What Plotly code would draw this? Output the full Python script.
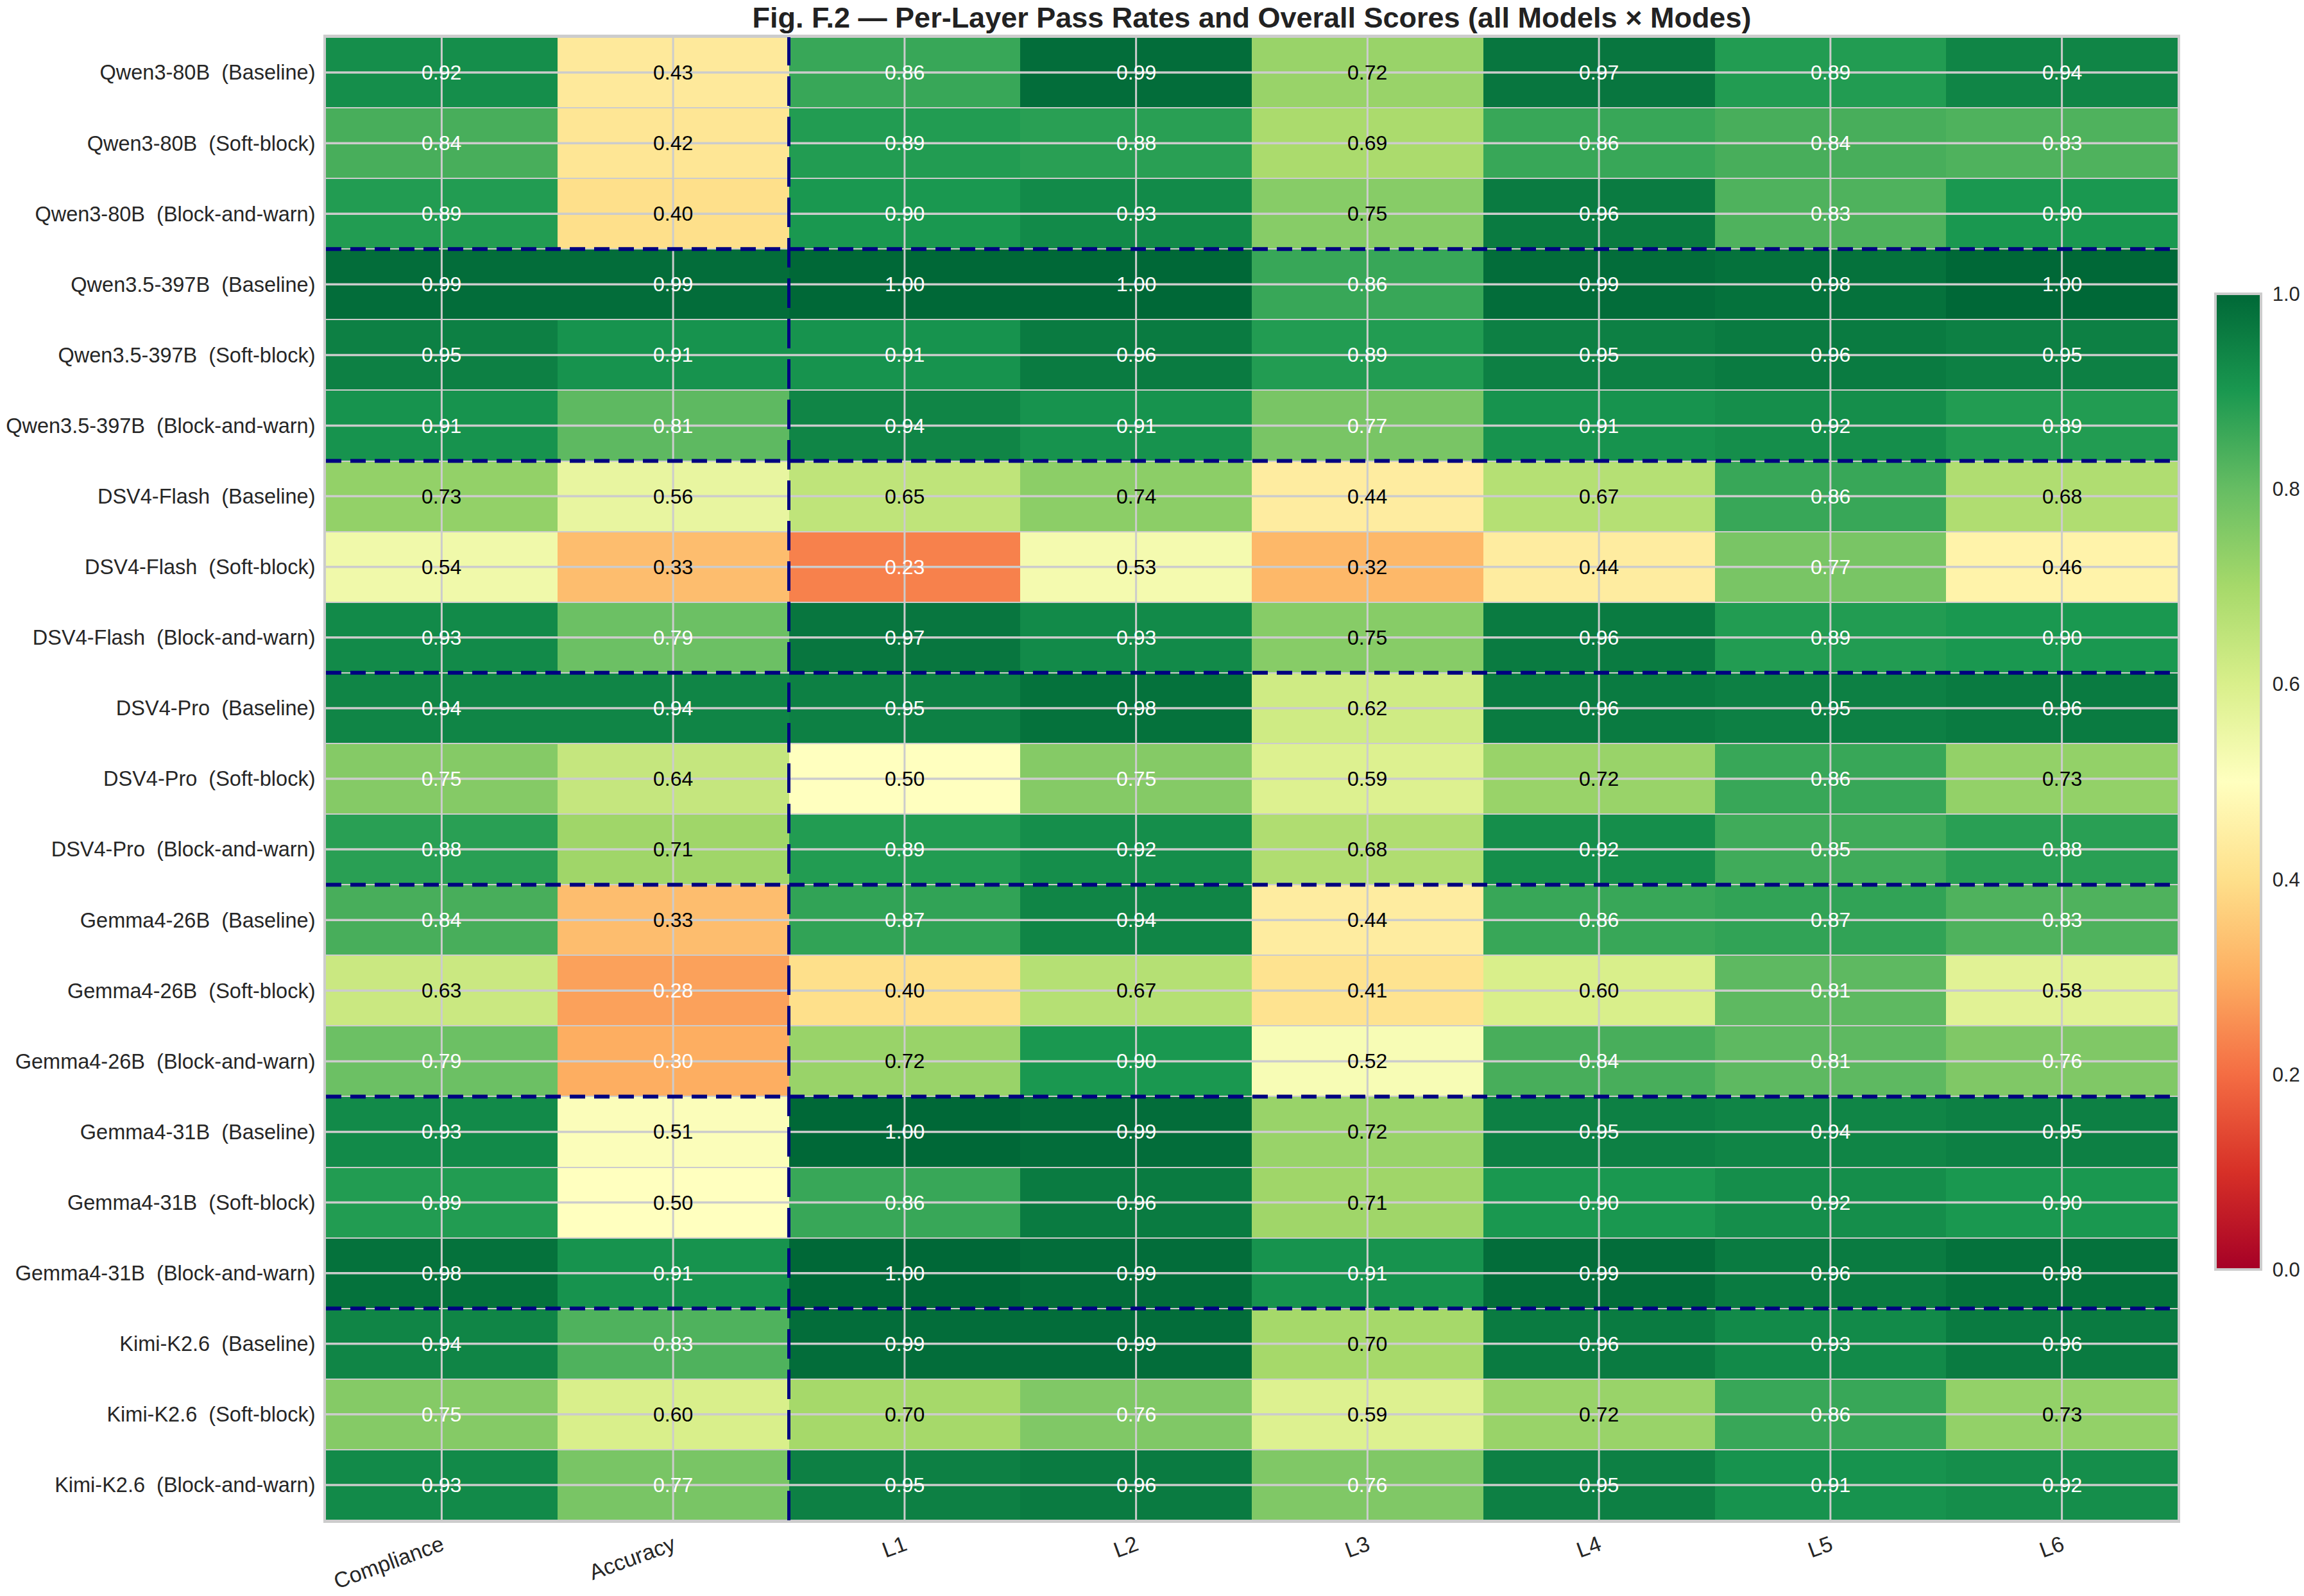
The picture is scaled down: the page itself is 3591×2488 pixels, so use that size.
import plotly.graph_objects as go

# ---------------- data ----------------
models = ["Qwen3-80B", "Qwen3.5-397B", "DSV4-Flash", "DSV4-Pro", "Gemma4-26B", "Gemma4-31B", "Kimi-K2.6"]
modes = ["Baseline", "Soft-block", "Block-and-warn"]
columns = ["Compliance", "Accuracy", "L1", "L2", "L3", "L4", "L5", "L6"]

compliance = [0.92, 0.84, 0.89, 0.99, 0.95, 0.91, 0.73, 0.54, 0.93, 0.94, 0.752, 0.88,
              0.84, 0.63, 0.79, 0.93, 0.89, 0.98, 0.94, 0.752, 0.93]
accuracy = [0.43, 0.42, 0.40, 0.99, 0.91, 0.81, 0.56, 0.33, 0.79, 0.94, 0.64, 0.71,
            0.33, 0.28, 0.30, 0.51, 0.50, 0.91, 0.83, 0.60, 0.77]
l1 = [0.86, 0.89, 0.90, 1.00, 0.91, 0.94, 0.65, 0.23, 0.97, 0.95, 0.50, 0.89,
      0.87, 0.40, 0.72, 1.00, 0.86, 1.00, 0.99, 0.70, 0.95]
l2 = [0.99, 0.88, 0.93, 1.00, 0.96, 0.91, 0.74, 0.53, 0.93, 0.98, 0.752, 0.92,
      0.94, 0.67, 0.90, 0.99, 0.96, 0.99, 0.99, 0.76, 0.96]
l3 = [0.72, 0.69, 0.748, 0.86, 0.89, 0.77, 0.44, 0.32, 0.748, 0.62, 0.59, 0.68,
      0.44, 0.41, 0.52, 0.72, 0.71, 0.91, 0.70, 0.59, 0.76]
l4 = [0.97, 0.86, 0.96, 0.99, 0.95, 0.91, 0.67, 0.44, 0.96, 0.96, 0.72, 0.92,
      0.86, 0.60, 0.84, 0.95, 0.90, 0.99, 0.96, 0.72, 0.95]
l5 = [0.89, 0.84, 0.83, 0.98, 0.96, 0.92, 0.86, 0.77, 0.89, 0.95, 0.86, 0.85,
      0.87, 0.81, 0.81, 0.94, 0.92, 0.96, 0.93, 0.86, 0.91]
l6 = [0.94, 0.83, 0.90, 1.00, 0.95, 0.89, 0.68, 0.46, 0.90, 0.96, 0.73, 0.88,
      0.83, 0.58, 0.76, 0.95, 0.90, 0.98, 0.96, 0.73, 0.92]

series = [compliance, accuracy, l1, l2, l3, l4, l5, l6]
row_labels = [f"{m}  ({md})" for m in models for md in modes]
z = [[s[i] for s in series] for i in range(len(row_labels))]

# ---------------- style ----------------
FONT = "Liberation Sans, Arial, sans-serif"
GRID = "#cccccc"
NAVY = "#000080"
rdylgn = ["#a50026", "#d73027", "#f46d43", "#fdae61", "#fee08b", "#ffffbf",
          "#d9ef8b", "#a6d96a", "#66bd63", "#1a9850", "#006837"]
colorscale = [[i / (len(rdylgn) - 1), c] for i, c in enumerate(rdylgn)]

fig = go.Figure()
fig.add_trace(go.Heatmap(
    z=z, x=columns, y=row_labels, zmin=0, zmax=1, colorscale=colorscale,
    xgap=0, ygap=2, hoverinfo="skip",
    colorbar=dict(
        thickness=71, outlinewidth=4, outlinecolor=GRID,
        tickvals=[0, 0.2, 0.4, 0.6, 0.8, 1.0], tickformat=".1f",
        tickfont=dict(size=31, color="#262626", family=FONT),
        ticks="outside", ticklen=10, tickcolor="rgba(0,0,0,0)",
        x=1.0204, xanchor="left", xpad=0,
        y=0.498, yanchor="middle", len=0.658, lenmode="fraction", ypad=0,
    ),
))

shapes = []
# grid lines over the cells
for c in columns:
    shapes.append(dict(type="line", xref="x", yref="y domain", x0=c, x1=c, y0=0, y1=1,
                       line=dict(color=GRID, width=3), layer="above"))
for r in row_labels:
    shapes.append(dict(type="line", xref="x domain", yref="y", x0=0, x1=1, y0=r, y1=r,
                       line=dict(color=GRID, width=3.5), layer="above"))
# group separators
n_modes = len(modes)
for g in range(1, len(models)):
    yb = g * n_modes - 0.5
    shapes.append(dict(type="line", xref="x domain", yref="y", x0=0, x1=1, y0=yb, y1=yb,
                       line=dict(color=NAVY, width=6, dash="24px,14px"), layer="above"))
shapes.append(dict(type="line", xref="x", yref="y domain", x0=1.5, x1=1.5, y0=0, y1=1,
                   line=dict(color=NAVY, width=5, dash="46px,17px"), layer="above"))

annotations = []
for i, r in enumerate(row_labels):
    for j, c in enumerate(columns):
        v = z[i][j]
        col = "white" if (v > 0.75 or v < 0.31) else "black"
        annotations.append(dict(x=c, y=r, xref="x", yref="y", text=f"{v:.2f}",
                                showarrow=False, font=dict(size=32, color=col, family=FONT)))

fig.update_layout(
    width=3591, height=2488,
    margin=dict(l=508, r=197, t=58, b=118, autoexpand=False),
    paper_bgcolor="white", plot_bgcolor=GRID,
    font=dict(family=FONT, color="#262626"),
    title=dict(text="Fig. F.2 — Per-Layer Pass Rates and Overall Scores (all Models × Modes)",
               x=0.5, xref="paper", xanchor="center",
               y=1 - 27 / 2488, yref="container", yanchor="middle",
               font=dict(size=45, color="#222222", family=FONT, weight="bold")),
    shapes=shapes, annotations=annotations,
)
fig.update_xaxes(categoryorder="array", categoryarray=columns, tickangle=-20,
                 tickfont=dict(size=34, color="#262626"), showgrid=False, zeroline=False,
                 ticks="", showline=True, mirror=True, linecolor=GRID, linewidth=4,
                 ticklabelstandoff=2, automargin=False)
fig.update_yaxes(categoryorder="array", categoryarray=row_labels, autorange="reversed",
                 tickfont=dict(size=32.5, color="#262626"), showgrid=False, zeroline=False,
                 ticks="", showline=True, mirror=True, linecolor=GRID, linewidth=4,
                 ticklabelstandoff=6, automargin=False)

fig.write_html("out.html")
